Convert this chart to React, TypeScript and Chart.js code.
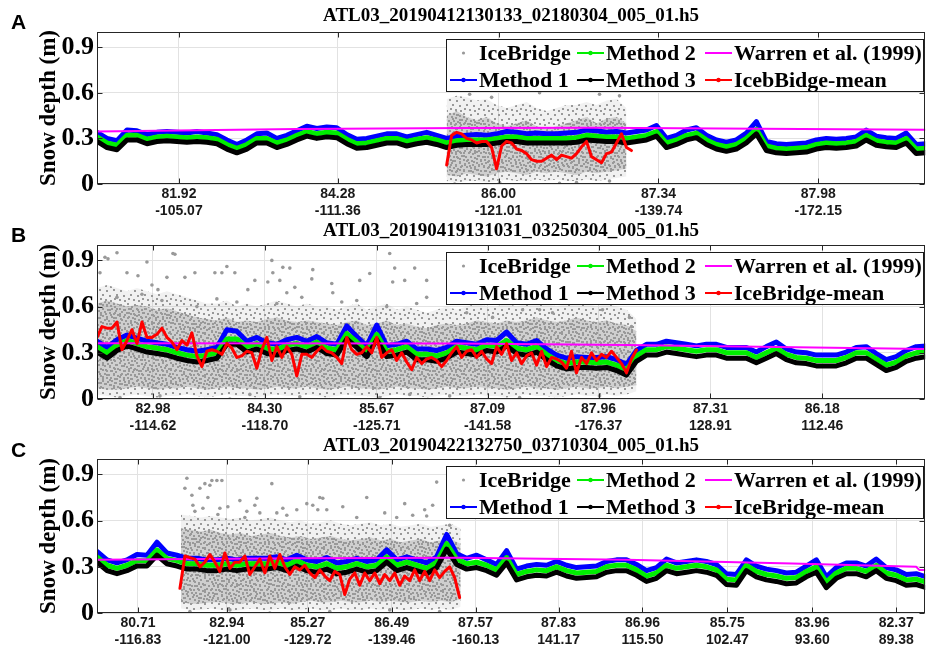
import React, { useEffect, useRef } from "react";
import { Chart, registerables } from "chart.js";

Chart.register(...registerables);

const SERIF = "'Liberation Serif', 'Times New Roman', Times, serif";
const SANS = "'Liberation Sans', Arial, Helvetica, sans-serif";
const GRAY = "#999999";
const BLUE = "#0000ff";
const GREEN = "#00ee00";
const BLACK = "#000000";
const MAGENTA = "#ff00ff";
const RED = "#ff0000";
const GRID = "#e2e2e2";

// along-track sample index axis
const X_MAX = 829;
const METHOD_STEP = 10;
const MEAN_STEP = 5;
const BAND_STEP = 10;
const Y_TICKS = [0, 0.3, 0.6, 0.9];
const Y_LABEL = "Snow depth (m)";

// ---------------- Panel A ----------------
const aTitle = "ATL03_20190412130133_02180304_005_01.h5";
const aLegend = ["IceBridge", "Method 1", "Method 2", "Method 3", "Warren et al. (1999)", "IcebBidge-mean"];
const aTickPos = [82, 241, 402, 562, 722];
const aTickLat = ["81.92", "84.28", "86.00", "87.34", "87.98"];
const aTickLon = ["-105.07", "-111.36", "-121.01", "-139.74", "-172.15"];
const aMethod1 = [0.34,0.30,0.285,0.355,0.35,0.325,0.34,0.345,0.34,0.335,
 0.345,0.335,0.325,0.29,0.26,0.29,0.33,0.335,0.30,0.32,
 0.35,0.38,0.365,0.375,0.37,0.325,0.295,0.30,0.315,0.33,
 0.33,0.31,0.325,0.34,0.32,0.30,0.315,0.32,0.325,0.32,
 0.33,0.345,0.34,0.33,0.335,0.33,0.33,0.335,0.34,0.355,
 0.35,0.34,0.345,0.335,0.345,0.355,0.385,0.30,0.32,0.355,
 0.37,0.32,0.29,0.275,0.29,0.335,0.41,0.28,0.265,0.26,
 0.265,0.27,0.29,0.30,0.295,0.30,0.31,0.355,0.315,0.305,
 0.30,0.335,0.26,0.265];
const aMethod2 = [0.31,0.27,0.255,0.32,0.32,0.295,0.31,0.315,0.31,0.305,
 0.31,0.305,0.295,0.26,0.235,0.26,0.30,0.30,0.27,0.29,
 0.32,0.345,0.33,0.34,0.335,0.295,0.265,0.27,0.285,0.30,
 0.30,0.28,0.295,0.305,0.29,0.27,0.285,0.29,0.29,0.29,
 0.30,0.31,0.31,0.30,0.30,0.30,0.30,0.30,0.305,0.32,
 0.315,0.31,0.31,0.30,0.31,0.32,0.345,0.27,0.29,0.32,
 0.335,0.29,0.26,0.245,0.26,0.30,0.36,0.25,0.235,0.23,
 0.235,0.24,0.26,0.27,0.265,0.27,0.28,0.32,0.285,0.275,
 0.27,0.30,0.23,0.235];
const aMethod3 = [0.28,0.24,0.225,0.29,0.29,0.265,0.28,0.285,0.28,0.275,
 0.28,0.275,0.265,0.23,0.205,0.23,0.27,0.27,0.24,0.26,
 0.29,0.315,0.30,0.31,0.305,0.265,0.235,0.24,0.255,0.27,
 0.27,0.25,0.265,0.275,0.26,0.24,0.255,0.26,0.26,0.26,
 0.27,0.28,0.28,0.27,0.27,0.27,0.27,0.27,0.275,0.29,
 0.285,0.28,0.28,0.27,0.28,0.29,0.315,0.24,0.26,0.29,
 0.305,0.26,0.23,0.215,0.23,0.27,0.33,0.22,0.205,0.20,
 0.205,0.21,0.23,0.24,0.235,0.24,0.25,0.29,0.255,0.245,
 0.24,0.27,0.20,0.205];
const aWarrenX = [0, 200, 370, 500, 829];
const aWarren = [0.345, 0.362, 0.368, 0.37, 0.357];
const aMeanStart = 350;
const aMean = [0.125,0.32,0.34,0.33,0.30,0.29,0.27,0.28,0.28,0.24,0.10,0.25,0.28,0.27,0.23,0.22,0.20,0.16,0.15,0.15,
 0.17,0.19,0.16,0.19,0.18,0.17,0.20,0.245,0.28,0.18,0.16,0.14,0.20,0.21,0.27,0.33,0.24,0.22];
const aBandStart = 350;
const aOuterHi = [0.56,0.58,0.57,0.55,0.56,0.52,0.50,0.52,0.54,0.50,0.48,0.50,0.52,0.52,0.54,0.52,0.55,0.56,0.50];
const aOuterLo = [0.02,0.01,0.02,0.02,0.01,0.02,0.03,0.02,0.02,0.03,0.02,0.03,0.02,0.02,0.03,0.02,0.03,0.04,0.05];
const aCoreHi = [0.45,0.48,0.44,0.42,0.44,0.40,0.38,0.40,0.42,0.38,0.36,0.38,0.40,0.42,0.44,0.40,0.43,0.44,0.40];
const aCoreLo = [0.06,0.05,0.07,0.06,0.05,0.07,0.08,0.07,0.06,0.08,0.07,0.08,0.07,0.06,0.08,0.07,0.08,0.09,0.10];
const aOutX = [358, 403, 463, 513, 373, 443, 503, 523, 395, 480];
const aOutY = [0.0, 0.01, 0.005, 0.02, 0.59, 0.60, 0.59, 0.58, 0.57, 0.01];

// ---------------- Panel B ----------------
const bTitle = "ATL03_20190419131031_03250304_005_01.h5";
const bLegend = ["IceBridge", "Method 1", "Method 2", "Method 3", "Warren et al. (1999)", "IceBridge-mean"];
const bTickPos = [56, 168, 280, 391, 502, 614, 726];
const bTickLat = ["82.98", "84.30", "85.67", "87.09", "87.96", "87.31", "86.18"];
const bTickLon = ["-114.62", "-118.70", "-125.71", "-141.58", "-176.37", "128.91", "112.46"];
const bMethod1 = [0.375,0.335,0.385,0.415,0.395,0.375,0.365,0.355,0.335,0.32,
 0.31,0.32,0.335,0.45,0.44,0.375,0.40,0.365,0.355,0.385,
 0.40,0.375,0.405,0.365,0.355,0.475,0.405,0.345,0.48,0.345,
 0.355,0.375,0.325,0.325,0.315,0.335,0.375,0.365,0.355,0.385,
 0.38,0.435,0.365,0.355,0.38,0.325,0.285,0.265,0.275,0.27,
 0.27,0.275,0.255,0.225,0.315,0.355,0.355,0.375,0.365,0.355,
 0.345,0.355,0.355,0.335,0.335,0.335,0.305,0.34,0.37,0.325,
 0.305,0.30,0.285,0.285,0.285,0.305,0.335,0.34,0.295,0.255,
 0.275,0.315,0.34,0.345];
const bMethod2 = [0.34,0.30,0.35,0.38,0.36,0.34,0.33,0.32,0.30,0.285,
 0.275,0.285,0.30,0.39,0.39,0.34,0.36,0.33,0.32,0.35,
 0.36,0.34,0.37,0.33,0.32,0.425,0.37,0.31,0.42,0.31,
 0.32,0.34,0.29,0.29,0.28,0.30,0.34,0.33,0.32,0.35,
 0.34,0.38,0.33,0.32,0.34,0.29,0.25,0.23,0.24,0.24,
 0.235,0.24,0.22,0.19,0.28,0.32,0.32,0.34,0.33,0.32,
 0.31,0.32,0.32,0.30,0.30,0.30,0.27,0.30,0.33,0.29,
 0.27,0.265,0.25,0.25,0.25,0.27,0.30,0.30,0.26,0.22,
 0.24,0.28,0.30,0.31];
const bMethod3 = [0.305,0.265,0.315,0.345,0.325,0.305,0.295,0.285,0.265,0.25,
 0.24,0.25,0.265,0.355,0.355,0.305,0.325,0.295,0.285,0.315,
 0.325,0.305,0.335,0.295,0.285,0.39,0.335,0.275,0.385,0.275,
 0.285,0.305,0.255,0.255,0.245,0.265,0.305,0.295,0.285,0.315,
 0.305,0.345,0.295,0.285,0.305,0.255,0.215,0.195,0.205,0.205,
 0.20,0.205,0.185,0.155,0.245,0.285,0.285,0.305,0.295,0.285,
 0.275,0.285,0.285,0.265,0.265,0.265,0.235,0.265,0.295,0.255,
 0.235,0.23,0.215,0.215,0.215,0.235,0.265,0.265,0.225,0.185,
 0.205,0.245,0.265,0.275];
const bWarrenX = [0, 363, 530, 663, 829];
const bWarren = [0.362, 0.36, 0.35, 0.34, 0.325];
const bMeanStart = 0;
const bMean = [0.40,0.47,0.46,0.46,0.50,0.32,0.38,0.45,0.36,0.50,
 0.40,0.40,0.42,0.46,0.40,0.37,0.32,0.38,0.35,0.43,
 0.28,0.21,0.31,0.32,0.31,0.29,0.36,0.33,0.27,0.28,
 0.31,0.30,0.20,0.32,0.40,0.25,0.34,0.27,0.34,0.29,
 0.15,0.29,0.29,0.27,0.31,0.34,0.31,0.30,0.27,0.23,
 0.40,0.32,0.29,0.30,0.34,0.30,0.40,0.27,0.30,0.32,
 0.25,0.30,0.24,0.19,0.27,0.23,0.26,0.27,0.25,0.21,
 0.25,0.30,0.34,0.27,0.31,0.32,0.27,0.31,0.26,0.23,
 0.34,0.29,0.36,0.25,0.30,0.23,0.28,0.30,0.22,0.31,
 0.21,0.27,0.26,0.24,0.20,0.31,0.17,0.27,0.23,0.30,
 0.25,0.29,0.27,0.31,0.27,0.23,0.17,0.26,0.32];
const bBandStart = 0;
const bOuterHi = [0.72,0.74,0.72,0.70,0.72,0.70,0.68,0.70,0.68,0.66,
 0.64,0.62,0.62,0.64,0.60,0.62,0.60,0.62,0.64,0.62,
 0.60,0.62,0.60,0.60,0.58,0.60,0.62,0.58,0.60,0.62,
 0.58,0.60,0.58,0.56,0.58,0.60,0.58,0.60,0.62,0.60,
 0.60,0.62,0.60,0.62,0.64,0.62,0.60,0.62,0.64,0.62,
 0.60,0.62,0.60,0.58,0.52];
const bOuterLo = [0.03,0.02,0.01,0.02,0.03,0.02,0.01,0.02,0.02,0.03,
 0.02,0.01,0.02,0.03,0.02,0.02,0.01,0.02,0.03,0.02,
 0.02,0.03,0.02,0.01,0.02,0.03,0.02,0.02,0.01,0.02,
 0.03,0.02,0.02,0.01,0.02,0.03,0.02,0.02,0.03,0.02,
 0.02,0.01,0.02,0.03,0.02,0.02,0.01,0.02,0.03,0.02,
 0.02,0.03,0.02,0.03,0.05];
const bCoreHi = [0.62,0.64,0.62,0.60,0.61,0.60,0.58,0.59,0.57,0.55,
 0.53,0.52,0.51,0.53,0.50,0.51,0.50,0.52,0.53,0.51,
 0.50,0.51,0.50,0.49,0.48,0.50,0.51,0.48,0.49,0.51,
 0.48,0.49,0.47,0.46,0.48,0.49,0.48,0.49,0.51,0.50,
 0.49,0.51,0.50,0.51,0.53,0.51,0.50,0.51,0.53,0.51,
 0.50,0.51,0.49,0.48,0.44];
const bCoreLo = [0.07,0.06,0.06,0.07,0.08,0.07,0.06,0.07,0.07,0.08,
 0.07,0.06,0.07,0.08,0.07,0.07,0.06,0.07,0.08,0.07,
 0.07,0.08,0.07,0.06,0.07,0.08,0.07,0.07,0.06,0.07,
 0.08,0.07,0.07,0.06,0.07,0.08,0.07,0.07,0.08,0.07,
 0.07,0.06,0.07,0.08,0.07,0.07,0.06,0.07,0.08,0.07,
 0.07,0.08,0.07,0.08,0.09];
const bOutX = [11,20,8,50,78,70,3,30,41,55,61,88,98,118,125,130,138,151,158,171,
 183,190,175,76,176,186,193,216,215,235,263,293,298,318,296,330,236,198,273,308,
 290,426,456,370,396,443,506,533,535,23,63,133,203,283,353,423,503,153,313,
 20,45,65,100,140,205,245,320,120,260,330,180];
const bOutY = [0.91,0.95,0.92,0.89,0.94,0.79,0.82,0.82,0.80,0.74,0.71,0.79,0.82,0.82,0.82,0.86,0.82,0.71,0.77,0.76,
 0.77,0.69,0.90,0.945,0.82,0.855,0.85,0.84,0.78,0.75,0.77,0.945,0.85,0.85,0.76,0.77,0.69,0.725,0.815,0.77,
 0.60,0.58,0.56,0.56,0.53,0.58,0.58,0.53,0.47,0.01,0.02,0.0,0.015,0.01,0.02,0.01,0.02,0.03,0.03,
 0.66,0.68,0.64,0.60,0.63,0.66,0.63,0.62,0.65,0.64,0.66,0.62];

// ---------------- Panel C ----------------
const cTitle = "ATL03_20190422132750_03710304_005_01.h5";
const cLegend = ["IceBridge", "Method 1", "Method 2", "Method 3", "Warren et al. (1999)", "IceBridge-mean"];
const cTickPos = [41, 130, 211, 295, 379, 462, 546, 631, 716, 800];
const cTickLat = ["80.71", "82.94", "85.27", "86.49", "87.57", "87.83", "86.96", "85.75", "83.96", "82.37"];
const cTickLon = ["-116.83", "-121.00", "-129.72", "-139.46", "-160.13", "141.17", "115.50", "102.47", "93.60", "89.38"];
const cMethod1 = [0.40,0.345,0.325,0.345,0.38,0.375,0.46,0.39,0.375,0.355,
 0.355,0.345,0.345,0.355,0.345,0.355,0.355,0.355,0.365,0.345,
 0.375,0.345,0.335,0.36,0.325,0.335,0.355,0.335,0.345,0.41,
 0.345,0.365,0.345,0.325,0.365,0.51,0.385,0.355,0.375,0.345,
 0.315,0.405,0.285,0.305,0.315,0.31,0.335,0.31,0.295,0.30,
 0.305,0.335,0.345,0.345,0.315,0.275,0.295,0.35,0.325,0.335,
 0.345,0.335,0.315,0.255,0.25,0.345,0.305,0.285,0.275,0.26,
 0.265,0.305,0.345,0.235,0.295,0.325,0.325,0.305,0.35,0.295,
 0.28,0.25,0.255,0.235];
const cMethod2 = [0.365,0.31,0.29,0.31,0.34,0.34,0.41,0.355,0.34,0.32,
 0.32,0.31,0.31,0.32,0.31,0.32,0.32,0.32,0.33,0.31,
 0.34,0.31,0.30,0.32,0.29,0.30,0.32,0.30,0.31,0.365,
 0.31,0.33,0.31,0.29,0.33,0.45,0.35,0.32,0.33,0.31,
 0.28,0.36,0.25,0.27,0.28,0.275,0.30,0.275,0.26,0.265,
 0.27,0.30,0.31,0.31,0.28,0.24,0.26,0.31,0.29,0.30,
 0.31,0.30,0.28,0.22,0.215,0.31,0.27,0.25,0.24,0.225,
 0.23,0.27,0.30,0.20,0.26,0.29,0.29,0.27,0.31,0.26,
 0.245,0.215,0.22,0.20];
const cMethod3 = [0.33,0.275,0.255,0.275,0.305,0.305,0.375,0.32,0.305,0.285,
 0.285,0.275,0.275,0.285,0.275,0.285,0.285,0.285,0.295,0.275,
 0.305,0.275,0.265,0.285,0.255,0.265,0.285,0.265,0.275,0.33,
 0.275,0.295,0.275,0.255,0.295,0.415,0.315,0.285,0.295,0.275,
 0.245,0.325,0.215,0.235,0.245,0.24,0.265,0.24,0.225,0.23,
 0.235,0.265,0.275,0.275,0.245,0.205,0.225,0.275,0.255,0.265,
 0.275,0.265,0.245,0.185,0.18,0.275,0.235,0.215,0.205,0.19,
 0.195,0.235,0.265,0.165,0.225,0.255,0.255,0.235,0.275,0.225,
 0.21,0.18,0.185,0.165];
const cWarrenX = [0, 203, 363, 530, 696, 820, 823, 830];
const cWarren = [0.345, 0.355, 0.358, 0.345, 0.322, 0.30, 0.28, 0.28];
const cMeanStart = 83;
const cMean = [0.16,0.37,0.36,0.35,0.30,0.33,0.38,0.33,0.27,0.39,
 0.29,0.33,0.33,0.37,0.25,0.30,0.35,0.26,0.37,0.29,
 0.38,0.30,0.25,0.30,0.28,0.31,0.26,0.23,0.28,0.24,
 0.21,0.27,0.25,0.12,0.22,0.26,0.18,0.26,0.21,0.26,
 0.19,0.25,0.21,0.26,0.18,0.24,0.21,0.28,0.21,0.27,
 0.21,0.28,0.23,0.27,0.30,0.23,0.10];
const cBandStart = 84;
const cOuterHi = [0.64,0.63,0.62,0.63,0.62,0.61,0.62,0.60,0.61,0.62,
 0.60,0.59,0.60,0.58,0.59,0.60,0.58,0.57,0.58,0.59,
 0.57,0.58,0.56,0.57,0.58,0.56,0.57,0.58,0.55];
const cOuterLo = [0.03,0.02,0.02,0.03,0.02,0.01,0.02,0.03,0.02,0.02,
 0.03,0.02,0.02,0.03,0.02,0.02,0.03,0.02,0.02,0.03,
 0.02,0.03,0.02,0.02,0.03,0.02,0.03,0.02,0.04];
const cCoreHi = [0.55,0.54,0.53,0.54,0.52,0.51,0.52,0.50,0.51,0.52,
 0.50,0.49,0.50,0.48,0.49,0.50,0.48,0.47,0.48,0.49,
 0.47,0.48,0.46,0.47,0.48,0.46,0.47,0.48,0.45];
const cCoreLo = [0.07,0.06,0.06,0.07,0.07,0.06,0.06,0.07,0.06,0.06,
 0.07,0.06,0.07,0.08,0.07,0.07,0.08,0.07,0.07,0.08,
 0.07,0.08,0.07,0.07,0.08,0.07,0.08,0.07,0.09];
const cOutX = [90,88,95,103,108,115,113,111,96,106,123,131,143,158,160,175,163,186,190,210,
 216,223,226,230,148,120,125,221,246,270,288,308,316,328,336,340,353,93,133,173,233,293,343,
 98,121,150,180,200,260,300,330];
const cOutY = [0.875,0.81,0.765,0.81,0.84,0.86,0.83,0.75,0.70,0.68,0.68,0.69,0.73,0.70,0.745,0.84,0.65,0.68,0.635,0.71,
 0.70,0.75,0.745,0.67,0.62,0.86,0.86,0.67,0.69,0.75,0.65,0.71,0.635,0.67,0.70,0.85,0.57,0.01,0.02,0.0,0.01,0.02,0.01,
 0.66,0.64,0.66,0.65,0.67,0.62,0.62,0.63];

const PANELS = [
  { title: aTitle, legend: aLegend, tickPos: aTickPos, lat: aTickLat, lon: aTickLon, m1: aMethod1, m2: aMethod2, m3: aMethod3,
    warrenX: aWarrenX, warren: aWarren, meanStart: aMeanStart, mean: aMean, bandStart: aBandStart,
    outerHi: aOuterHi, outerLo: aOuterLo, coreHi: aCoreHi, coreLo: aCoreLo, outX: aOutX, outY: aOutY },
  { title: bTitle, legend: bLegend, tickPos: bTickPos, lat: bTickLat, lon: bTickLon, m1: bMethod1, m2: bMethod2, m3: bMethod3,
    warrenX: bWarrenX, warren: bWarren, meanStart: bMeanStart, mean: bMean, bandStart: bBandStart,
    outerHi: bOuterHi, outerLo: bOuterLo, coreHi: bCoreHi, coreLo: bCoreLo, outX: bOutX, outY: bOutY },
  { title: cTitle, legend: cLegend, tickPos: cTickPos, lat: cTickLat, lon: cTickLon, m1: cMethod1, m2: cMethod2, m3: cMethod3,
    warrenX: cWarrenX, warren: cWarren, meanStart: cMeanStart, mean: cMean, bandStart: cBandStart,
    outerHi: cOuterHi, outerLo: cOuterLo, coreHi: cCoreHi, coreLo: cCoreLo, outX: cOutX, outY: cOutY },
];

// layout of each panel canvas (page pixels)
const LAYOUT = [
  { top: 0, height: 222, titleTop: 7, titleBottom: 6, xAxisH: 38, letter: "A", letterTop: 11 },
  { top: 218, height: 218, titleTop: 3.5, titleBottom: 4.5, xAxisH: 37, letter: "B", letterTop: 224 },
  { top: 433, height: 216, titleTop: 3.5, titleBottom: 3.5, xAxisH: 36, letter: "C", letterTop: 439 },
];

// stipple textures for the dense IceBridge point cloud
const CORE_DOTS = [[0,0],[5,1],[9,0],[13,2],[2,3],[7,4],[11,5],[15,6],[0,7],[4,8],[9,8],[13,9],[2,11],[6,12],[11,12],[15,13],[0,14],[8,15],[4,15],[12,16]];
const OUTER_DOTS = [[1,1],[8,2],[4,6],[11,7],[2,10],[7,11],[12,12]];

const seq = (vals: number[], start: number, step: number) => vals.map((y, i) => ({ x: start + i * step, y }));
const pairs = (xs: number[], ys: number[]) => xs.map((x, i) => ({ x, y: ys[i] }));

function makePattern(ctx: CanvasRenderingContext2D, w: number, h: number, dots: number[][], color: string, tint: string) {
  const c = document.createElement("canvas");
  c.width = w;
  c.height = h;
  const g = c.getContext("2d")!;
  g.fillStyle = tint;
  g.fillRect(0, 0, w, h);
  g.fillStyle = color;
  dots.forEach(([x, y]) => g.fillRect(x, y, 2, 2));
  return ctx.createPattern(c, "repeat");
}

const boxPlugin = (tickPos: number[]) => ({
  id: "matBox",
  afterDatasetsDraw(chart: any) {
    const { ctx, chartArea: a, scales } = chart;
    const L = Math.round(a.left) + 0.5, R = Math.round(a.right) - 0.5;
    const T = Math.round(a.top) + 0.5, B = Math.round(a.bottom) - 0.5;
    ctx.save();
    ctx.strokeStyle = "#262626";
    ctx.lineWidth = 1;
    ctx.strokeRect(L, T, R - L, B - T);
    ctx.beginPath();
    for (const v of tickPos) {
      const x = Math.round(scales.x.getPixelForValue(v)) + 0.5;
      ctx.moveTo(x, B); ctx.lineTo(x, B - 5);
      ctx.moveTo(x, T); ctx.lineTo(x, T + 5);
    }
    for (const v of Y_TICKS) {
      const y = Math.round(scales.y.getPixelForValue(v)) + 0.5;
      ctx.moveTo(L, y); ctx.lineTo(L + 5, y);
      ctx.moveTo(R, y); ctx.lineTo(R - 5, y);
    }
    ctx.stroke();
    ctx.restore();
  },
});

const legendPlugin = (labels: string[]) => ({
  id: "matLegend",
  afterDraw(chart: any) {
    const { ctx, chartArea } = chart;
    const w = 478, h = 53;
    const left = Math.round(chartArea.right) - w - 1;
    const top = Math.round(chartArea.top) + 7;
    ctx.save();
    ctx.fillStyle = "#ffffff";
    ctx.fillRect(left, top, w, h);
    ctx.strokeStyle = "#1a1a1a";
    ctx.lineWidth = 1;
    ctx.strokeRect(left + 0.5, top + 0.5, w - 1, h - 1);
    const items = [
      { text: labels[0], color: GRAY, line: false, marker: true, row: 0, col: 0 },
      { text: labels[2], color: GREEN, line: true, marker: true, row: 0, col: 1 },
      { text: labels[4], color: MAGENTA, line: true, marker: false, row: 0, col: 2 },
      { text: labels[1], color: BLUE, line: true, marker: true, row: 1, col: 0 },
      { text: labels[3], color: BLACK, line: true, marker: true, row: 1, col: 1 },
      { text: labels[5], color: RED, line: true, marker: true, row: 1, col: 2 },
    ];
    const colX = [4, 131, 259];
    const rowY = [14, 41];
    ctx.font = `bold 22px ${SERIF}`;
    ctx.textBaseline = "middle";
    ctx.textAlign = "left";
    for (const it of items) {
      const x0 = left + colX[it.col];
      const y = top + rowY[it.row];
      if (it.line) {
        ctx.strokeStyle = it.color;
        ctx.lineWidth = 2;
        ctx.beginPath();
        ctx.moveTo(x0, y);
        ctx.lineTo(x0 + 27, y);
        ctx.stroke();
      }
      if (it.marker) {
        ctx.fillStyle = it.color;
        ctx.beginPath();
        ctx.arc(x0 + 13.5, y, it.line ? 2.2 : 1.6, 0, Math.PI * 2);
        ctx.fill();
      }
      ctx.fillStyle = "#000000";
      ctx.fillText(it.text, x0 + 29, y + 1);
    }
    ctx.restore();
  },
});

function buildConfig(p: any, lay: any, corePat: any, outerPat: any) {
  const line = (label: string, data: any[], color: string, width: number, order: number) => ({
    label, data, borderColor: color, backgroundColor: color, borderWidth: width, order,
    pointRadius: 0, pointHoverRadius: 0, fill: false, tension: 0, borderJoinStyle: "round", borderCapStyle: "round",
  });
  const band = (label: string, data: any[], order: number, fill: any, bg: any) => ({
    label, data, borderColor: "rgba(0,0,0,0)", borderWidth: 1, order, pointRadius: 0, pointHoverRadius: 0,
    fill, backgroundColor: bg, tension: 0,
  });
  const datasets = [
    line(p.legend[5], seq(p.mean, p.meanStart, MEAN_STEP), RED, 3, 0),
    line(p.legend[4], pairs(p.warrenX, p.warren), MAGENTA, 2, 1),
    line(p.legend[3], seq(p.m3, 0, METHOD_STEP), BLACK, 5, 2),
    line(p.legend[2], seq(p.m2, 0, METHOD_STEP), GREEN, 5, 3),
    line(p.legend[1], seq(p.m1, 0, METHOD_STEP), BLUE, 5, 4),
    {
      label: p.legend[0], data: pairs(p.outX, p.outY), showLine: false, order: 5,
      pointRadius: 1.8, pointHoverRadius: 0, pointBackgroundColor: GRAY, pointBorderWidth: 0, borderColor: GRAY,
    },
    band(p.legend[0] + " core low", seq(p.coreLo, p.bandStart, BAND_STEP), 6, false, "rgba(0,0,0,0)"),
    band(p.legend[0] + " core high", seq(p.coreHi, p.bandStart, BAND_STEP), 6, "-1", corePat),
    band(p.legend[0] + " low", seq(p.outerLo, p.bandStart, BAND_STEP), 7, false, "rgba(0,0,0,0)"),
    band(p.legend[0] + " high", seq(p.outerHi, p.bandStart, BAND_STEP), 7, "-1", outerPat),
  ];
  return {
    type: "line",
    data: { datasets },
    options: {
      animation: false,
      responsive: false,
      events: [],
      layout: { padding: { left: 0, right: 1, top: 0, bottom: 0 } },
      plugins: {
        legend: { display: false },
        tooltip: { enabled: false },
        title: {
          display: true, text: p.title, fullSize: false, color: "#000",
          font: { family: SERIF, size: 19, weight: "bold", lineHeight: 1 },
          padding: { top: lay.titleTop, bottom: lay.titleBottom },
        },
      },
      scales: {
        x: {
          type: "linear", min: 0, max: X_MAX,
          grid: { color: GRID, drawTicks: false, lineWidth: 1 },
          border: { display: false },
          afterBuildTicks: (s: any) => { s.ticks = p.tickPos.map((v: number) => ({ value: v })); },
          afterFit: (s: any) => { s.height = lay.xAxisH; },
          ticks: {
            autoSkip: false, maxRotation: 0, minRotation: 0, padding: 2, color: "#1a1a1a",
            font: { family: SANS, size: 14, weight: "bold", lineHeight: 1.2 },
            callback: (_v: any, i: number) => [p.lat[i], p.lon[i]],
          },
        },
        y: {
          type: "linear", min: 0, max: 1,
          grid: { color: GRID, drawTicks: false, lineWidth: 1 },
          border: { display: false },
          afterBuildTicks: (s: any) => { s.ticks = Y_TICKS.map((v) => ({ value: v })); },
          afterFit: (s: any) => { s.width = 97; },
          ticks: {
            padding: 3, color: "#000",
            font: { family: SERIF, size: 26, weight: "bold" },
            callback: (v: number) => (v === 0 ? "0" : v.toFixed(1)),
          },
          title: {
            display: true, text: Y_LABEL, color: "#000",
            font: { family: SERIF, size: 23, weight: "bold", lineHeight: 1.2 },
            padding: { top: 35, bottom: 0 },
          },
        },
      },
    },
    plugins: [boxPlugin(p.tickPos), legendPlugin(p.legend)],
  };
}

export default function App() {
  const refs = [useRef<HTMLCanvasElement>(null), useRef<HTMLCanvasElement>(null), useRef<HTMLCanvasElement>(null)];

  useEffect(() => {
    const charts: Chart[] = [];
    PANELS.forEach((p, i) => {
      const cv = refs[i].current;
      if (!cv) return;
      const ctx = cv.getContext("2d")!;
      const corePat = makePattern(ctx, 17, 18, CORE_DOTS, GRAY, "rgba(153,153,153,0.38)");
      const outerPat = makePattern(ctx, 14, 14, OUTER_DOTS, GRAY, "rgba(153,153,153,0.14)");
      charts.push(new Chart(ctx, buildConfig(p, LAYOUT[i], corePat, outerPat) as any));
    });
    return () => charts.forEach((c) => c.destroy());
  }, []);

  return (
    <div style={{ position: "fixed", left: 0, top: 0, width: 927, height: 649, overflow: "hidden", background: "#fff" }}>
      {LAYOUT.map((lay, i) => (
        <canvas
          key={"c" + i}
          ref={refs[i]}
          width={927}
          height={lay.height}
          style={{ position: "absolute", left: 0, top: lay.top, width: 927, height: lay.height, display: "block" }}
        />
      ))}
      {LAYOUT.map((lay, i) => (
        <div
          key={"l" + i}
          style={{
            position: "absolute", left: 11, top: lay.letterTop, fontFamily: SANS, fontWeight: "bold",
            fontSize: 21, lineHeight: 1, color: "#000",
          }}
        >
          {lay.letter}
        </div>
      ))}
    </div>
  );
}
